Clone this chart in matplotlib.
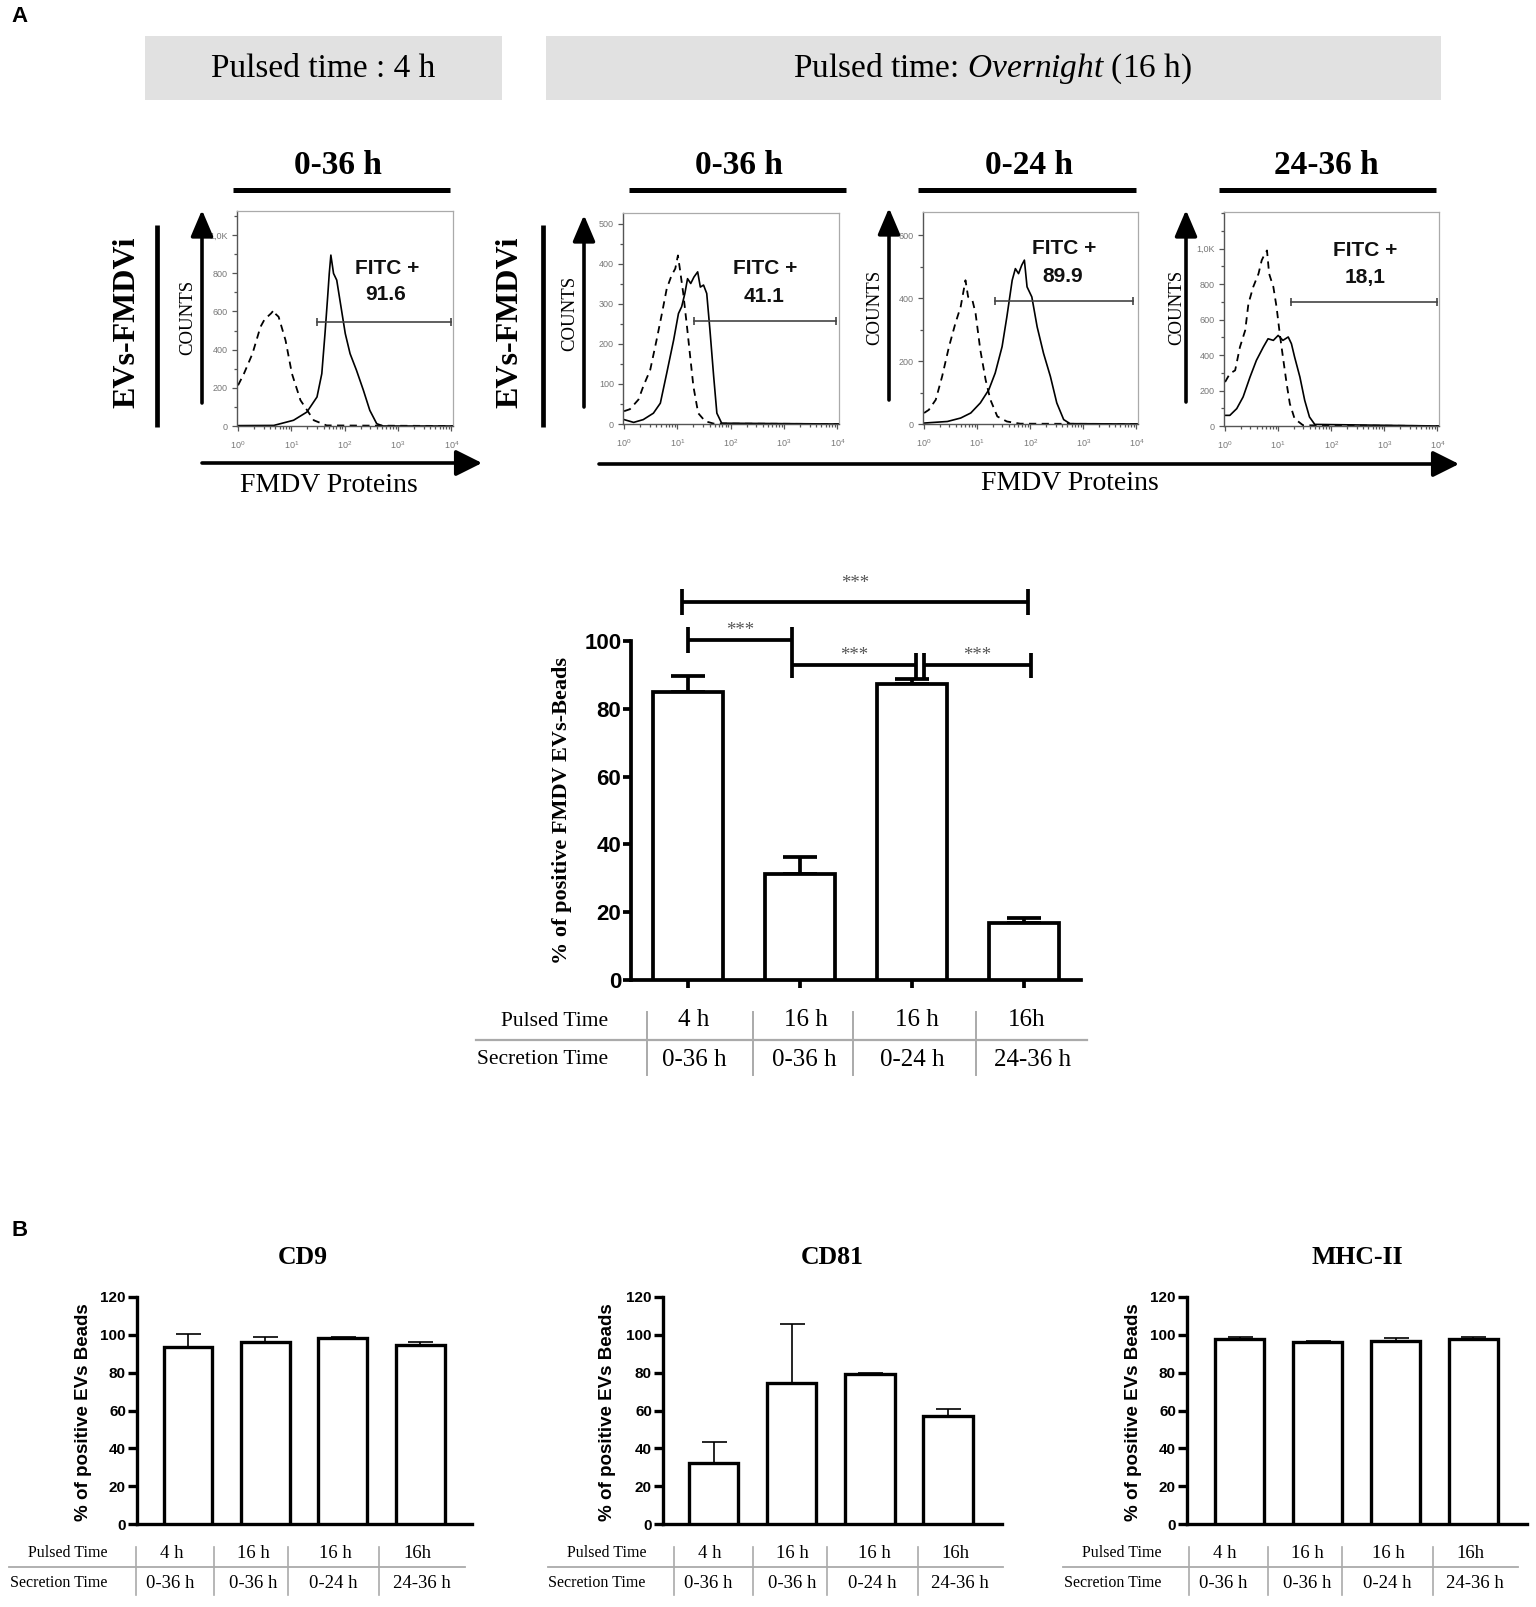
import numpy as np
import matplotlib
matplotlib.use('Agg')
import matplotlib.pyplot as plt
from matplotlib.patches import Rectangle

plt.rcParams['font.family'] = ['Liberation Sans', 'DejaVu Sans']
plt.rcParams['mathtext.fontset'] = 'custom'
plt.rcParams['mathtext.rm'] = 'Liberation Serif'
plt.rcParams['mathtext.it'] = 'Liberation Serif:italic'
plt.rcParams['mathtext.sf'] = 'Liberation Sans'

SERIF = ['Liberation Serif', 'DejaVu Serif']
SANS = ['Liberation Sans', 'DejaVu Sans']
W, H = 1536, 1607

# ---------------- DATA ----------------
# Panel A: flow histograms (x = log10 FITC intensity, y = counts)
hist_titles = ['0-36 h', '0-36 h', '0-24 h', '24-36 h']
fitc_values = ['91.6', '41.1', '89.9', '18,1']

h1_ctrl_x = [0.0, 0.11, 0.27, 0.42, 0.50, 0.55, 0.62, 0.67, 0.71, 0.76, 0.89, 1.01, 1.17, 1.42, 1.66, 4.03]
h1_ctrl_y = [213, 274, 379, 519, 560, 572, 590, 607, 585, 572, 449, 274, 135, 30, 3, 0]
h1_evs_x = [0.0, 0.67, 1.04, 1.29, 1.48, 1.57, 1.63, 1.68, 1.71, 1.74, 1.79, 1.85, 1.91, 2.01, 2.10,
            2.22, 2.35, 2.47, 2.60, 2.72, 4.03]
h1_evs_y = [2, 3, 30, 73, 152, 274, 484, 677, 799, 895, 799, 764, 659, 484, 379, 292, 187, 82, 12, 0, 0]

h2_ctrl_x = [0.0, 0.11, 0.27, 0.36, 0.49, 0.61, 0.71, 0.80, 0.89, 0.96, 1.01, 1.05, 1.11, 1.18, 1.24,
             1.30, 1.39, 1.52, 1.68, 4.03]
h2_ctrl_y = [32, 37, 61, 94, 135, 210, 276, 338, 371, 388, 421, 384, 326, 243, 168, 94, 27, 7, 1, 0]
h2_evs_x = [0.0, 0.18, 0.36, 0.55, 0.68, 0.80, 0.93, 1.02, 1.08, 1.14, 1.19, 1.25, 1.31, 1.38, 1.43,
            1.49, 1.55, 1.61, 1.68, 1.74, 1.83, 4.03]
h2_evs_y = [11, 4, 11, 27, 52, 127, 210, 276, 293, 326, 363, 351, 367, 380, 342, 347, 326, 235, 119,
            27, 2, 0]

h3_ctrl_x = [0.0, 0.09, 0.22, 0.34, 0.47, 0.59, 0.69, 0.78, 0.83, 0.91, 0.97, 1.06, 1.16, 1.25, 1.38,
             1.56, 1.81, 4.03]
h3_ctrl_y = [35, 45, 77, 151, 246, 320, 373, 457, 404, 394, 352, 235, 140, 77, 24, 8, 1, 0]
h3_evs_x = [0.0, 0.44, 0.69, 0.88, 1.06, 1.22, 1.34, 1.47, 1.56, 1.66, 1.72, 1.78, 1.84, 1.89, 1.94,
            2.03, 2.13, 2.25, 2.38, 2.50, 2.63, 2.75, 4.03]
h3_evs_y = [3, 8, 19, 35, 67, 109, 162, 246, 341, 457, 494, 478, 505, 521, 436, 404, 309, 225, 151,
            67, 14, 1, 0]

h4_ctrl_x = [0.0, 0.09, 0.19, 0.28, 0.38, 0.44, 0.53, 0.63, 0.69, 0.75, 0.79, 0.83, 0.91, 0.97, 1.03,
             1.09, 1.16, 1.22, 1.31, 1.47, 4.03]
h4_ctrl_y = [248, 295, 314, 445, 540, 690, 784, 859, 934, 972, 990, 859, 784, 671, 521, 389, 239, 126,
             41, 4, 0]
h4_evs_x = [0.0, 0.09, 0.22, 0.34, 0.47, 0.59, 0.72, 0.81, 0.91, 1.0, 1.09, 1.19, 1.25, 1.31, 1.41,
            1.50, 1.59, 1.69, 4.03]
h4_evs_y = [60, 60, 98, 164, 276, 370, 445, 492, 483, 511, 483, 502, 464, 389, 276, 145, 51, 9, 0]

gate_lo = [1.48, 1.31, 1.33, 1.25]
gate_hi = [4.0, 3.98, 3.94, 4.0]
gate_level = [545, 257, 391, 699]
hist_ymax = [1126, 527, 674, 1207]
hist_yticks = [[0, 200, 400, 600, 800, 1000], [0, 100, 200, 300, 400, 500], [0, 200, 400, 600],
               [0, 200, 400, 600, 800, 1000]]
hist_yticklabels = [['0', '200', '400', '600', '800', '1,0K'], ['0', '100', '200', '300', '400', '500'],
                    ['0', '200', '400', '600'], ['0', '200', '400', '600', '800', '1,0K']]

# Bar charts
pulsed_time = ['4 h', '16 h', '16 h', '16h']
secretion_time = ['0-36 h', '0-36 h', '0-24 h', '24-36 h']
fmdv_mean = [85.0, 31.4, 87.4, 16.7]
fmdv_sem = [4.7, 4.9, 1.5, 1.7]
sig_pairs = [(0, 3), (0, 1), (1, 2), (2, 3)]
sig_level = [111.5, 100.3, 92.9, 92.9]
sig_text = ['***', '***', '***', '***']

markers = ['CD9', 'CD81', 'MHC-II']
cd9_mean = [93.5, 96.2, 98.1, 94.4]
cd9_sem = [6.9, 2.4, 0.9, 1.6]
cd81_mean = [32.4, 74.5, 79.4, 56.9]
cd81_sem = [11.0, 31.1, 0.5, 3.7]
mhc_mean = [97.9, 96.3, 96.8, 97.9]
mhc_sem = [1.2, 0.7, 1.6, 1.2]

# ---------------- FIGURE ----------------
fig = plt.figure(figsize=(W / 100, H / 100), dpi=100)
ov = fig.add_axes([0, 0, 1, 1])
ov.set_xlim(0, W)
ov.set_ylim(H, 0)
ov.axis('off')
ov.set_zorder(10)


def px_axes(l, t, r, b):
    return fig.add_axes([l / W, 1 - b / H, (r - l) / W, (b - t) / H])


def arrow(x0, y0, x1, y1, lw=2.6, hw=0.34):
    ov.annotate('', xy=(x1, y1), xytext=(x0, y0),
                arrowprops=dict(arrowstyle='-|>,head_length=0.8,head_width=%.2f' % hw, lw=lw,
                                color='k', mutation_scale=20, shrinkA=0, shrinkB=0))


# panel letters
ov.text(20, 16, 'A', fontsize=16, fontweight='bold', family=SANS, ha='center', va='center')
ov.text(20, 1231, 'B', fontsize=16, fontweight='bold', family=SANS, ha='center', va='center')

# grey header boxes
ov.add_patch(Rectangle((145, 36), 357, 64, facecolor='#e1e1e1', edgecolor='none'))
ov.add_patch(Rectangle((546, 36), 895, 64, facecolor='#e1e1e1', edgecolor='none'))
ov.text(323, 69, 'Pulsed time : 4 h', family=SERIF, fontsize=24, ha='center', va='center')
ov.text(993, 69, r'Pulsed time: $\mathit{Overnight}$ (16 h)', family=SERIF, fontsize=24,
        ha='center', va='center')

# histogram titles + bars
title_cx = [338, 739, 1029, 1326]
title_bar = [(233, 450), (629, 846), (918, 1136), (1219, 1436)]
for t, cx, (a, b) in zip(hist_titles, title_cx, title_bar):
    ov.text(cx, 166, t, family=SERIF, fontsize=24, fontweight='bold', ha='center', va='center')
    ov.plot([a, b], [190, 190], color='k', lw=3.6, solid_capstyle='butt')

# EVs-FMDVi labels
for x_txt, x_bar in [(127, 157), (510, 543)]:
    ov.text(x_txt, 322, 'EVs-FMDVi', family=SERIF, fontsize=23, fontweight='bold', rotation=90,
            ha='center', va='center')
    ov.plot([x_bar, x_bar], [225, 427], color='k', lw=3.4, solid_capstyle='butt')

# COUNTS arrows
for x_txt, y_txt, x_ar, y_b, y_t in [(188, 317, 202, 403, 210), (570, 313, 584, 407, 215),
                                     (875, 307, 889, 400, 208), (1177, 307, 1186, 402, 210)]:
    ov.text(x_txt, y_txt, 'COUNTS', family=SERIF, fontsize=13.5, rotation=90, ha='center', va='center')
    arrow(x_ar, y_b, x_ar, y_t)

# FMDV Proteins arrows
arrow(202, 463, 482, 463, hw=0.4)
arrow(599, 464, 1459, 464, hw=0.4)
ov.text(329, 485, 'FMDV Proteins', family=SERIF, fontsize=20, ha='center', va='center')
ov.text(1070, 484, 'FMDV Proteins', family=SERIF, fontsize=20, ha='center', va='center')

# flow histograms
hist_boxes = [(237, 211, 453, 426), (623, 213, 839, 424), (923, 212, 1138, 424), (1224, 212, 1439, 426)]
ctrl = [(h1_ctrl_x, h1_ctrl_y), (h2_ctrl_x, h2_ctrl_y), (h3_ctrl_x, h3_ctrl_y), (h4_ctrl_x, h4_ctrl_y)]
evs = [(h1_evs_x, h1_evs_y), (h2_evs_x, h2_evs_y), (h3_evs_x, h3_evs_y), (h4_evs_x, h4_evs_y)]
fitc_pos = [(387, 268, 386, 295), (765, 268, 764, 297), (1064, 248, 1063, 276), (1365, 250, 1365, 277)]
minor_x = [d + np.log10(k) for d in range(4) for k in range(2, 10)]
for i in range(4):
    ax = px_axes(*hist_boxes[i])
    ax.plot(ctrl[i][0], ctrl[i][1], color='k', lw=1.3, ls=(0, (4, 3)))
    ax.plot(evs[i][0], evs[i][1], color='k', lw=1.2)
    ax.plot([gate_lo[i], gate_hi[i]], [gate_level[i], gate_level[i]], color='#444', lw=1.2,
            marker='|', markersize=6, markeredgewidth=1.2)
    ax.set_xlim(-0.02, 4.03)
    ax.set_ylim(0, hist_ymax[i])
    ax.set_xticks(range(5))
    ax.set_xticklabels([r'$\mathsf{10^{%d}}$' % d for d in range(5)])
    ax.set_xticks(minor_x, minor=True)
    yt = hist_yticks[i]
    ax.set_yticks(yt)
    ax.set_yticklabels(hist_yticklabels[i])
    step = yt[1] - yt[0]
    ax.set_yticks(np.arange(step / 2, hist_ymax[i], step / 2), minor=True)
    for s in ['top', 'right']:
        ax.spines[s].set_color('#aaaaaa')
        ax.spines[s].set_linewidth(0.9)
    for s in ['left', 'bottom']:
        ax.spines[s].set_color('#555555')
        ax.spines[s].set_linewidth(1.0)
    ax.tick_params(which='both', colors='#555555', labelcolor='#777777', labelsize=6.5,
                   length=3.5, width=0.9, pad=3)
    ax.tick_params(axis='x', pad=6)
    ax.tick_params(which='minor', length=2)
    fx, fy, vx, vy = fitc_pos[i]
    ov.text(fx, fy, 'FITC +', family=SANS, fontsize=15, fontweight='bold', ha='center', va='center',
            color='#111111')
    ov.text(vx, vy, fitc_values[i], family=SANS, fontsize=15, fontweight='bold', ha='center',
            va='center', color='#111111')


def bar_panel(ax, mean, sem, ymax, ystep, tick_fs, lw, elw, capsize, xticks):
    x = np.arange(len(mean))
    ax.bar(x, mean, width=0.63, facecolor='white', edgecolor='k', linewidth=lw, zorder=3)
    ax.errorbar(x, mean, yerr=[np.zeros(len(sem)), sem], fmt='none', ecolor='k', elinewidth=elw,
                capsize=capsize, capthick=elw, zorder=2)
    ax.set_ylim(0, ymax)
    ax.set_yticks(np.arange(0, ymax + 1, ystep))
    for s in ['top', 'right']:
        ax.spines[s].set_visible(False)
    for s in ['left', 'bottom']:
        ax.spines[s].set_linewidth(lw)
    ax.tick_params(axis='y', width=lw, length=5.5, labelsize=tick_fs, pad=1.5)
    if xticks:
        ax.set_xticks(x)
        ax.set_xticklabels([])
        ax.tick_params(axis='x', width=lw, length=6)
    else:
        ax.set_xticks([])
    for lbl in ax.get_yticklabels():
        lbl.set_fontweight('bold')


# Panel A bar chart
axA = px_axes(631, 641, 1081, 980)
bar_panel(axA, fmdv_mean, fmdv_sem, 100, 20, 16, 2.7, 2.7, 12.5, True)
axA.set_xlim(-0.51, 3.51)
offs = {(0, 3): (-0.05, 0.04), (0, 1): (0.0, -0.07), (1, 2): (-0.07, 0.04), (2, 3): (0.11, 0.06)}
for (i, j), lev, st in zip(sig_pairs, sig_level, sig_text):
    d0, d1 = offs[(i, j)]
    x0, x1 = i + d0, j + d1
    axA.plot([x0, x1], [lev, lev], color='k', lw=2.7, clip_on=False, solid_capstyle='butt')
    for xx in (x0, x1):
        axA.plot([xx, xx], [lev - 3.7, lev + 3.7], color='k', lw=2.7, clip_on=False,
                 solid_capstyle='butt')
    axA.text((x0 + x1) / 2, lev + (4.0 if lev > 105 else 1.4), st, family=SERIF, fontsize=13.5,
             color='#555555', ha='center', va='baseline', clip_on=False)
ov.text(562, 810, '% of positive FMDV EVs-Beads', family=SERIF, fontsize=16, fontweight='bold',
        rotation=90, ha='center', va='center')

# Panel A table
ov.text(555, 1022, 'Pulsed Time', family=SERIF, fontsize=15.5, ha='center', va='center')
ov.text(543, 1060, 'Secretion Time', family=SERIF, fontsize=15.5, ha='center', va='center')
for t, x in zip(pulsed_time, [694, 806, 917, 1027]):
    ov.text(x, 1020, t, family=SERIF, fontsize=18, ha='center', va='center')
for t, x in zip(secretion_time, [694, 804, 912, 1033]):
    ov.text(x, 1060, t, family=SERIF, fontsize=18, ha='center', va='center')
ov.plot([476, 1087], [1040, 1040], color='#aaaaaa', lw=1.6)
for x in [647, 753, 853, 976]:
    ov.plot([x, x], [1012, 1075], color='#aaaaaa', lw=1.4)

# Panel B
b_boxes = [(137, 1297, 472, 1524), (663, 1297, 1002, 1524), (1187, 1297, 1527, 1524)]
b_xlim = [(-0.66, 3.67), (-0.65, 3.69), (-0.68, 3.69)]
b_data = [(cd9_mean, cd9_sem), (cd81_mean, cd81_sem), (mhc_mean, mhc_sem)]
b_title_x = [303, 832, 1357]
b_ylab_x = [83, 608, 1133]
b_pulsed_lab = [(68, 59), (607, 597), (1122, 1113)]
b_pulsed_x = [[172, 253, 335, 417], [710, 792, 874, 955], [1225, 1307, 1388, 1470]]
b_sec_x = [[170, 253, 333, 422], [708, 792, 872, 960], [1223, 1307, 1387, 1475]]
b_line = [(9, 465), (548, 1003), (1063, 1518)]
b_vlines = [[136, 214, 288, 379], [674, 753, 827, 918], [1189, 1268, 1342, 1433]]
for k in range(3):
    ax = px_axes(*b_boxes[k])
    bar_panel(ax, b_data[k][0], b_data[k][1], 120, 20, 11, 2.4, 1.2, 9, False)
    ax.set_xlim(*b_xlim[k])
    ax.tick_params(axis='y', length=6.5)
    ov.text(b_title_x[k], 1258, markers[k], family=SERIF, fontsize=18.5, fontweight='bold',
            ha='center', va='center')
    ov.text(b_ylab_x[k], 1412, '% of positive EVs Beads', family=SANS, fontsize=13.5,
            fontweight='bold', rotation=90, ha='center', va='center')
    ov.text(b_pulsed_lab[k][0], 1553, 'Pulsed Time', family=SERIF, fontsize=11.5, ha='center',
            va='center')
    ov.text(b_pulsed_lab[k][1], 1583, 'Secretion Time', family=SERIF, fontsize=11.5, ha='center',
            va='center')
    for t, x in zip(pulsed_time, b_pulsed_x[k]):
        ov.text(x, 1553, t, family=SERIF, fontsize=13.5, ha='center', va='center')
    for t, x in zip(secretion_time, b_sec_x[k]):
        ov.text(x, 1583, t, family=SERIF, fontsize=13.5, ha='center', va='center')
    ov.plot(list(b_line[k]), [1567, 1567], color='#aaaaaa', lw=1.3)
    for x in b_vlines[k]:
        ov.plot([x, x], [1547, 1595], color='#aaaaaa', lw=1.2)

fig.savefig('out.png', dpi=100)
